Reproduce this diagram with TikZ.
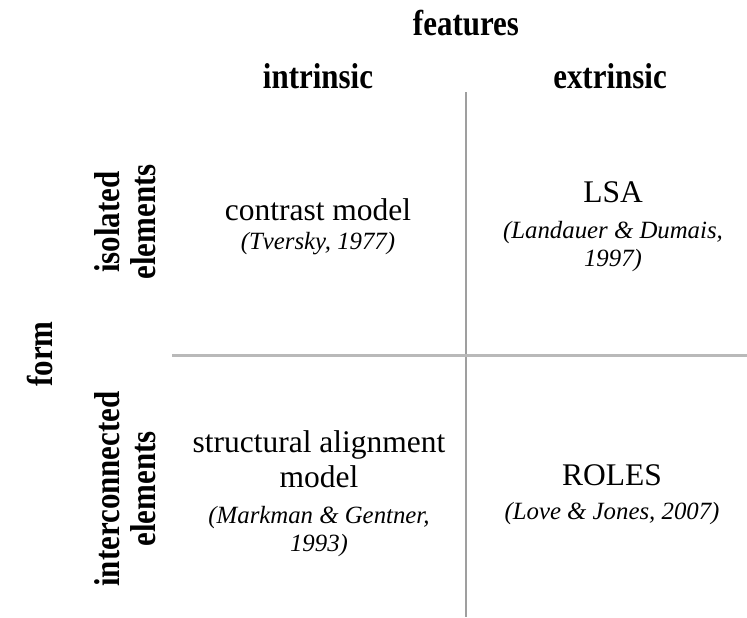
\documentclass[tikz,border=0pt]{standalone}
\usepackage{fontspec}
\setmainfont{Liberation Serif}
\newfontfamily\headfont{Liberation Serif}[FakeStretch=0.86]
\usepackage{tikz}

\tikzset{
  head/.style={font=\headfont\bfseries\fontsize{18}{18}\selectfont, align=center, inner sep=0pt},
  model/.style={font=\fontsize{15.75}{17.5}\selectfont, align=center, inner sep=0pt},
  cite/.style={font=\itshape\fontsize{12.4}{14}\selectfont, align=center, inner sep=0pt},
  divider/.style={draw=gray!75, line width=1pt},
}

\begin{document}
\begin{tikzpicture}[x=0.5pt, y=-0.5pt]
    \useasboundingbox (0,0) rectangle (747,617);

    % Quadrant dividers
    \coordinate (vtop) at (466,92);
    \coordinate (vbot) at (466,617);
    \coordinate (hleft) at (172,355);
    \coordinate (hright) at (747,355);
    \draw[divider] (vtop) -- (vbot);
    \draw[divider, draw=gray!55, line width=1.5pt] (hleft) -- (hright);

    % Headers
    \node[head] (features) at (466,23) {features};
    \node[head] (intr) at (318,76) {intrinsic};
    \node[head] (extr) at (610,76) {extrinsic};
    \node[head, rotate=90] (form) at (40,354) {form};
    \node[head, rotate=90] (iso) at (125,222) {isolated\\elements};
    \node[head, rotate=90] (inter) at (125,489) {interconnected\\elements};

    % Cells
    \node[model] (contrast) at (318,210) {contrast model};
    \node[cite] (tversky) at (318,244) {(Tversky, 1977)};
    \node[model] (lsa) at (613,192) {LSA};
    \node[cite] (landauer) at (613,247) {(Landauer \& Dumais,\\1997)};
    \node[model] (sam) at (319,459) {structural alignment\\model};
    \node[cite] (markman) at (319,532) {(Markman \& Gentner,\\1993)};
    \node[model] (roles) at (612,475) {ROLES};
    \node[cite] (love) at (612,514) {(Love \& Jones, 2007)};
\end{tikzpicture}
\end{document}
